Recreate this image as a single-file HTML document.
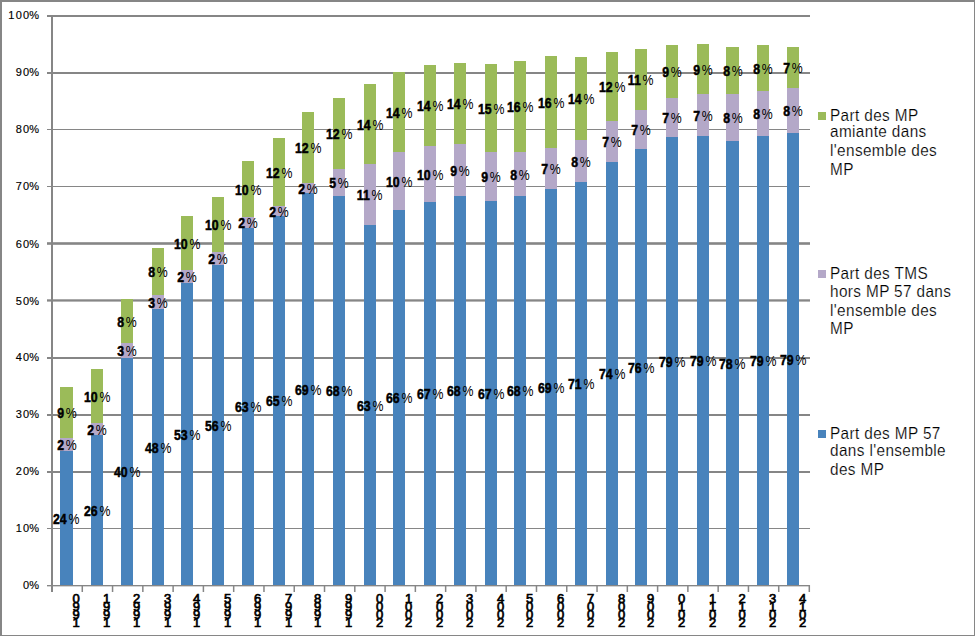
<!DOCTYPE html>
<html><head><meta charset="utf-8"><style>
html,body{margin:0;padding:0;background:#fff;}
body{width:975px;height:636px;position:relative;overflow:hidden;font-family:"Liberation Sans",sans-serif;}
svg{position:absolute;left:0;top:0;}
.yl{position:absolute;right:936px;font-size:11px;line-height:11px;color:#000;-webkit-text-stroke:0.15px #000;white-space:nowrap;text-align:right;}
.dl{position:absolute;width:60px;text-align:center;font-size:15px;line-height:15px;color:#000;white-space:nowrap;}
.dl span{display:inline-block;transform:scaleX(0.82);}
.dl b{font-weight:bold;-webkit-text-stroke:0.5px #000;}
.dl i{font-style:normal;margin-left:2.2px;}
.xl{position:absolute;width:20px;text-align:center;font-size:13px;line-height:8.03px;color:#000;-webkit-text-stroke:0.7px #000;}
.lg{position:absolute;left:830px;font-size:16.5px;line-height:16.5px;letter-spacing:0.4px;color:#000;white-space:nowrap;transform:scaleX(0.93);-webkit-text-stroke:0.2px #fff;transform-origin:0 0;}
</style></head><body>
<svg width="975" height="636" viewBox="0 0 975 636">
<rect x="0.00" y="0.00" width="975.00" height="2.00" fill="#868686"/>
<rect x="0.00" y="0.00" width="2.00" height="636.00" fill="#868686"/>
<rect x="974.00" y="0.00" width="1.00" height="636.00" fill="#868686"/>
<rect x="0.00" y="635.00" width="975.00" height="1.00" fill="#868686"/>
<rect x="47.00" y="15.00" width="763.00" height="2.00" fill="#868686"/>
<rect x="47.00" y="72.00" width="763.00" height="2.00" fill="#868686"/>
<rect x="47.00" y="129.00" width="763.00" height="1.00" fill="#868686"/>
<rect x="47.00" y="186.00" width="763.00" height="1.00" fill="#868686"/>
<rect x="47.00" y="242.20" width="763.00" height="2.60" fill="#868686"/>
<rect x="47.00" y="299.30" width="763.00" height="2.30" fill="#868686"/>
<rect x="47.00" y="357.00" width="763.00" height="2.00" fill="#868686"/>
<rect x="47.00" y="414.00" width="763.00" height="2.00" fill="#868686"/>
<rect x="47.00" y="471.00" width="763.00" height="2.00" fill="#868686"/>
<rect x="47.00" y="528.00" width="763.00" height="1.00" fill="#868686"/>
<rect x="47.00" y="585.00" width="763.00" height="1.20" fill="#868686"/>
<rect x="51.00" y="15.00" width="2.00" height="577.00" fill="#868686"/>
<rect x="51.25" y="585.00" width="1.50" height="7.00" fill="#868686"/>
<rect x="81.53" y="585.00" width="1.50" height="7.00" fill="#868686"/>
<rect x="111.81" y="585.00" width="1.50" height="7.00" fill="#868686"/>
<rect x="142.09" y="585.00" width="1.50" height="7.00" fill="#868686"/>
<rect x="172.37" y="585.00" width="1.50" height="7.00" fill="#868686"/>
<rect x="202.65" y="585.00" width="1.50" height="7.00" fill="#868686"/>
<rect x="232.93" y="585.00" width="1.50" height="7.00" fill="#868686"/>
<rect x="263.21" y="585.00" width="1.50" height="7.00" fill="#868686"/>
<rect x="293.49" y="585.00" width="1.50" height="7.00" fill="#868686"/>
<rect x="323.77" y="585.00" width="1.50" height="7.00" fill="#868686"/>
<rect x="354.05" y="585.00" width="1.50" height="7.00" fill="#868686"/>
<rect x="384.33" y="585.00" width="1.50" height="7.00" fill="#868686"/>
<rect x="414.61" y="585.00" width="1.50" height="7.00" fill="#868686"/>
<rect x="444.89" y="585.00" width="1.50" height="7.00" fill="#868686"/>
<rect x="475.17" y="585.00" width="1.50" height="7.00" fill="#868686"/>
<rect x="505.45" y="585.00" width="1.50" height="7.00" fill="#868686"/>
<rect x="535.73" y="585.00" width="1.50" height="7.00" fill="#868686"/>
<rect x="566.01" y="585.00" width="1.50" height="7.00" fill="#868686"/>
<rect x="596.29" y="585.00" width="1.50" height="7.00" fill="#868686"/>
<rect x="626.57" y="585.00" width="1.50" height="7.00" fill="#868686"/>
<rect x="656.85" y="585.00" width="1.50" height="7.00" fill="#868686"/>
<rect x="687.13" y="585.00" width="1.50" height="7.00" fill="#868686"/>
<rect x="717.41" y="585.00" width="1.50" height="7.00" fill="#868686"/>
<rect x="747.69" y="585.00" width="1.50" height="7.00" fill="#868686"/>
<rect x="777.97" y="585.00" width="1.50" height="7.00" fill="#868686"/>
<rect x="808.55" y="585.00" width="1.50" height="7.00" fill="#868686"/>
<rect x="60.00" y="451.00" width="13.00" height="134.00" fill="#4883bc"/>
<rect x="60.00" y="438.00" width="13.00" height="13.00" fill="#b4a8c8"/>
<rect x="60.00" y="387.00" width="13.00" height="51.00" fill="#9bbb59"/>
<rect x="91.00" y="435.00" width="12.00" height="150.00" fill="#4883bc"/>
<rect x="91.00" y="423.00" width="12.00" height="12.00" fill="#b4a8c8"/>
<rect x="91.00" y="369.00" width="12.00" height="54.00" fill="#9bbb59"/>
<rect x="121.00" y="358.00" width="12.00" height="227.00" fill="#4883bc"/>
<rect x="121.00" y="343.00" width="12.00" height="15.00" fill="#b4a8c8"/>
<rect x="121.00" y="299.00" width="12.00" height="44.00" fill="#9bbb59"/>
<rect x="152.00" y="309.00" width="12.00" height="276.00" fill="#4883bc"/>
<rect x="152.00" y="295.00" width="12.00" height="14.00" fill="#b4a8c8"/>
<rect x="152.00" y="248.00" width="12.00" height="47.00" fill="#9bbb59"/>
<rect x="181.00" y="283.00" width="12.00" height="302.00" fill="#4883bc"/>
<rect x="181.00" y="270.00" width="12.00" height="13.00" fill="#b4a8c8"/>
<rect x="181.00" y="216.00" width="12.00" height="54.00" fill="#9bbb59"/>
<rect x="212.00" y="265.00" width="12.00" height="320.00" fill="#4883bc"/>
<rect x="212.00" y="252.00" width="12.00" height="13.00" fill="#b4a8c8"/>
<rect x="212.00" y="197.00" width="12.00" height="55.00" fill="#9bbb59"/>
<rect x="242.00" y="228.00" width="12.00" height="357.00" fill="#4883bc"/>
<rect x="242.00" y="217.00" width="12.00" height="11.00" fill="#b4a8c8"/>
<rect x="242.00" y="161.00" width="12.00" height="56.00" fill="#9bbb59"/>
<rect x="273.00" y="216.00" width="12.00" height="369.00" fill="#4883bc"/>
<rect x="273.00" y="206.00" width="12.00" height="10.00" fill="#b4a8c8"/>
<rect x="273.00" y="138.00" width="12.00" height="68.00" fill="#9bbb59"/>
<rect x="302.00" y="193.00" width="12.00" height="392.00" fill="#4883bc"/>
<rect x="302.00" y="183.00" width="12.00" height="10.00" fill="#b4a8c8"/>
<rect x="302.00" y="112.00" width="12.00" height="71.00" fill="#9bbb59"/>
<rect x="333.00" y="196.00" width="12.00" height="389.00" fill="#4883bc"/>
<rect x="333.00" y="169.00" width="12.00" height="27.00" fill="#b4a8c8"/>
<rect x="333.00" y="98.00" width="12.00" height="71.00" fill="#9bbb59"/>
<rect x="364.00" y="225.00" width="12.00" height="360.00" fill="#4883bc"/>
<rect x="364.00" y="164.00" width="12.00" height="61.00" fill="#b4a8c8"/>
<rect x="364.00" y="84.00" width="12.00" height="80.00" fill="#9bbb59"/>
<rect x="393.00" y="210.00" width="12.00" height="375.00" fill="#4883bc"/>
<rect x="393.00" y="152.00" width="12.00" height="58.00" fill="#b4a8c8"/>
<rect x="393.00" y="72.00" width="12.00" height="80.00" fill="#9bbb59"/>
<rect x="424.00" y="202.00" width="12.00" height="383.00" fill="#4883bc"/>
<rect x="424.00" y="146.00" width="12.00" height="56.00" fill="#b4a8c8"/>
<rect x="424.00" y="65.00" width="12.00" height="81.00" fill="#9bbb59"/>
<rect x="454.00" y="196.00" width="12.00" height="389.00" fill="#4883bc"/>
<rect x="454.00" y="144.00" width="12.00" height="52.00" fill="#b4a8c8"/>
<rect x="454.00" y="63.00" width="12.00" height="81.00" fill="#9bbb59"/>
<rect x="485.00" y="201.00" width="12.00" height="384.00" fill="#4883bc"/>
<rect x="485.00" y="152.00" width="12.00" height="49.00" fill="#b4a8c8"/>
<rect x="485.00" y="64.00" width="12.00" height="88.00" fill="#9bbb59"/>
<rect x="514.00" y="196.00" width="12.00" height="389.00" fill="#4883bc"/>
<rect x="514.00" y="152.00" width="12.00" height="44.00" fill="#b4a8c8"/>
<rect x="514.00" y="61.00" width="12.00" height="91.00" fill="#9bbb59"/>
<rect x="545.00" y="189.00" width="12.00" height="396.00" fill="#4883bc"/>
<rect x="545.00" y="148.00" width="12.00" height="41.00" fill="#b4a8c8"/>
<rect x="545.00" y="56.00" width="12.00" height="92.00" fill="#9bbb59"/>
<rect x="575.00" y="182.00" width="12.00" height="403.00" fill="#4883bc"/>
<rect x="575.00" y="140.00" width="12.00" height="42.00" fill="#b4a8c8"/>
<rect x="575.00" y="57.00" width="12.00" height="83.00" fill="#9bbb59"/>
<rect x="606.00" y="162.00" width="12.00" height="423.00" fill="#4883bc"/>
<rect x="606.00" y="121.00" width="12.00" height="41.00" fill="#b4a8c8"/>
<rect x="606.00" y="52.00" width="12.00" height="69.00" fill="#9bbb59"/>
<rect x="635.00" y="149.00" width="12.00" height="436.00" fill="#4883bc"/>
<rect x="635.00" y="110.00" width="12.00" height="39.00" fill="#b4a8c8"/>
<rect x="635.00" y="49.00" width="12.00" height="61.00" fill="#9bbb59"/>
<rect x="666.00" y="137.00" width="12.00" height="448.00" fill="#4883bc"/>
<rect x="666.00" y="98.00" width="12.00" height="39.00" fill="#b4a8c8"/>
<rect x="666.00" y="45.00" width="12.00" height="53.00" fill="#9bbb59"/>
<rect x="697.00" y="136.00" width="12.00" height="449.00" fill="#4883bc"/>
<rect x="697.00" y="94.00" width="12.00" height="42.00" fill="#b4a8c8"/>
<rect x="697.00" y="44.00" width="12.00" height="50.00" fill="#9bbb59"/>
<rect x="726.00" y="141.00" width="13.00" height="444.00" fill="#4883bc"/>
<rect x="726.00" y="94.00" width="13.00" height="47.00" fill="#b4a8c8"/>
<rect x="726.00" y="47.00" width="13.00" height="47.00" fill="#9bbb59"/>
<rect x="757.00" y="136.00" width="12.00" height="449.00" fill="#4883bc"/>
<rect x="757.00" y="91.00" width="12.00" height="45.00" fill="#b4a8c8"/>
<rect x="757.00" y="45.00" width="12.00" height="46.00" fill="#9bbb59"/>
<rect x="787.00" y="133.00" width="12.00" height="452.00" fill="#4883bc"/>
<rect x="787.00" y="88.00" width="12.00" height="45.00" fill="#b4a8c8"/>
<rect x="787.00" y="47.00" width="12.00" height="41.00" fill="#9bbb59"/>
<rect x="47.00" y="585.00" width="763.00" height="1.20" fill="#868686"/>
</svg>
<div class="yl" style="top:10.0px"><span style="letter-spacing:1.3px">1</span><span style="letter-spacing:1.3px">0</span>0%</div>
<div class="yl" style="top:67.0px"><span style="letter-spacing:1.3px">9</span>0%</div>
<div class="yl" style="top:124.0px"><span style="letter-spacing:1.3px">8</span>0%</div>
<div class="yl" style="top:181.0px"><span style="letter-spacing:1.3px">7</span>0%</div>
<div class="yl" style="top:239.0px"><span style="letter-spacing:1.3px">6</span>0%</div>
<div class="yl" style="top:296.0px"><span style="letter-spacing:1.3px">5</span>0%</div>
<div class="yl" style="top:352.0px"><span style="letter-spacing:1.3px">4</span>0%</div>
<div class="yl" style="top:409.0px"><span style="letter-spacing:1.3px">3</span>0%</div>
<div class="yl" style="top:466.0px"><span style="letter-spacing:1.3px">2</span>0%</div>
<div class="yl" style="top:523.0px"><span style="letter-spacing:1.3px">1</span>0%</div>
<div class="yl" style="top:580.0px">0%</div>
<div class="dl" style="left:36.50px;top:510.7px"><span><b>24</b><i>%</i></span></div>
<div class="dl" style="left:36.50px;top:437.2px"><span><b>2</b><i>%</i></span></div>
<div class="dl" style="left:36.50px;top:405.2px"><span><b>9</b><i>%</i></span></div>
<div class="dl" style="left:67.00px;top:502.7px"><span><b>26</b><i>%</i></span></div>
<div class="dl" style="left:67.00px;top:421.7px"><span><b>2</b><i>%</i></span></div>
<div class="dl" style="left:67.00px;top:388.7px"><span><b>10</b><i>%</i></span></div>
<div class="dl" style="left:97.00px;top:464.2px"><span><b>40</b><i>%</i></span></div>
<div class="dl" style="left:97.00px;top:343.2px"><span><b>3</b><i>%</i></span></div>
<div class="dl" style="left:97.00px;top:313.7px"><span><b>8</b><i>%</i></span></div>
<div class="dl" style="left:128.00px;top:439.7px"><span><b>48</b><i>%</i></span></div>
<div class="dl" style="left:128.00px;top:294.7px"><span><b>3</b><i>%</i></span></div>
<div class="dl" style="left:128.00px;top:264.2px"><span><b>8</b><i>%</i></span></div>
<div class="dl" style="left:157.00px;top:426.7px"><span><b>53</b><i>%</i></span></div>
<div class="dl" style="left:157.00px;top:269.2px"><span><b>2</b><i>%</i></span></div>
<div class="dl" style="left:157.00px;top:235.7px"><span><b>10</b><i>%</i></span></div>
<div class="dl" style="left:188.00px;top:417.7px"><span><b>56</b><i>%</i></span></div>
<div class="dl" style="left:188.00px;top:251.2px"><span><b>2</b><i>%</i></span></div>
<div class="dl" style="left:188.00px;top:217.2px"><span><b>10</b><i>%</i></span></div>
<div class="dl" style="left:218.00px;top:399.2px"><span><b>63</b><i>%</i></span></div>
<div class="dl" style="left:218.00px;top:215.2px"><span><b>2</b><i>%</i></span></div>
<div class="dl" style="left:218.00px;top:181.7px"><span><b>10</b><i>%</i></span></div>
<div class="dl" style="left:249.00px;top:393.2px"><span><b>65</b><i>%</i></span></div>
<div class="dl" style="left:249.00px;top:203.7px"><span><b>2</b><i>%</i></span></div>
<div class="dl" style="left:249.00px;top:164.7px"><span><b>12</b><i>%</i></span></div>
<div class="dl" style="left:278.00px;top:381.7px"><span><b>69</b><i>%</i></span></div>
<div class="dl" style="left:278.00px;top:180.7px"><span><b>2</b><i>%</i></span></div>
<div class="dl" style="left:278.00px;top:140.2px"><span><b>12</b><i>%</i></span></div>
<div class="dl" style="left:309.00px;top:383.2px"><span><b>68</b><i>%</i></span></div>
<div class="dl" style="left:309.00px;top:175.2px"><span><b>5</b><i>%</i></span></div>
<div class="dl" style="left:309.00px;top:126.2px"><span><b>12</b><i>%</i></span></div>
<div class="dl" style="left:340.00px;top:397.7px"><span><b>63</b><i>%</i></span></div>
<div class="dl" style="left:340.00px;top:187.2px"><span><b>11</b><i>%</i></span></div>
<div class="dl" style="left:340.00px;top:116.7px"><span><b>14</b><i>%</i></span></div>
<div class="dl" style="left:369.00px;top:390.2px"><span><b>66</b><i>%</i></span></div>
<div class="dl" style="left:369.00px;top:173.7px"><span><b>10</b><i>%</i></span></div>
<div class="dl" style="left:369.00px;top:104.7px"><span><b>14</b><i>%</i></span></div>
<div class="dl" style="left:400.00px;top:386.2px"><span><b>67</b><i>%</i></span></div>
<div class="dl" style="left:400.00px;top:166.7px"><span><b>10</b><i>%</i></span></div>
<div class="dl" style="left:400.00px;top:98.2px"><span><b>14</b><i>%</i></span></div>
<div class="dl" style="left:430.00px;top:383.2px"><span><b>68</b><i>%</i></span></div>
<div class="dl" style="left:430.00px;top:162.7px"><span><b>9</b><i>%</i></span></div>
<div class="dl" style="left:430.00px;top:96.2px"><span><b>14</b><i>%</i></span></div>
<div class="dl" style="left:461.00px;top:385.7px"><span><b>67</b><i>%</i></span></div>
<div class="dl" style="left:461.00px;top:169.2px"><span><b>9</b><i>%</i></span></div>
<div class="dl" style="left:461.00px;top:100.7px"><span><b>15</b><i>%</i></span></div>
<div class="dl" style="left:490.00px;top:383.2px"><span><b>68</b><i>%</i></span></div>
<div class="dl" style="left:490.00px;top:166.7px"><span><b>8</b><i>%</i></span></div>
<div class="dl" style="left:490.00px;top:99.2px"><span><b>16</b><i>%</i></span></div>
<div class="dl" style="left:521.00px;top:379.7px"><span><b>69</b><i>%</i></span></div>
<div class="dl" style="left:521.00px;top:161.2px"><span><b>7</b><i>%</i></span></div>
<div class="dl" style="left:521.00px;top:94.7px"><span><b>16</b><i>%</i></span></div>
<div class="dl" style="left:551.00px;top:376.2px"><span><b>71</b><i>%</i></span></div>
<div class="dl" style="left:551.00px;top:153.7px"><span><b>8</b><i>%</i></span></div>
<div class="dl" style="left:551.00px;top:91.2px"><span><b>14</b><i>%</i></span></div>
<div class="dl" style="left:582.00px;top:366.2px"><span><b>74</b><i>%</i></span></div>
<div class="dl" style="left:582.00px;top:134.2px"><span><b>7</b><i>%</i></span></div>
<div class="dl" style="left:582.00px;top:79.2px"><span><b>12</b><i>%</i></span></div>
<div class="dl" style="left:611.00px;top:359.7px"><span><b>76</b><i>%</i></span></div>
<div class="dl" style="left:611.00px;top:122.2px"><span><b>7</b><i>%</i></span></div>
<div class="dl" style="left:611.00px;top:72.2px"><span><b>11</b><i>%</i></span></div>
<div class="dl" style="left:642.00px;top:353.7px"><span><b>79</b><i>%</i></span></div>
<div class="dl" style="left:642.00px;top:110.2px"><span><b>7</b><i>%</i></span></div>
<div class="dl" style="left:642.00px;top:64.2px"><span><b>9</b><i>%</i></span></div>
<div class="dl" style="left:673.00px;top:353.2px"><span><b>79</b><i>%</i></span></div>
<div class="dl" style="left:673.00px;top:107.7px"><span><b>7</b><i>%</i></span></div>
<div class="dl" style="left:673.00px;top:61.7px"><span><b>9</b><i>%</i></span></div>
<div class="dl" style="left:702.50px;top:355.7px"><span><b>78</b><i>%</i></span></div>
<div class="dl" style="left:702.50px;top:110.2px"><span><b>8</b><i>%</i></span></div>
<div class="dl" style="left:702.50px;top:63.2px"><span><b>8</b><i>%</i></span></div>
<div class="dl" style="left:733.00px;top:353.2px"><span><b>79</b><i>%</i></span></div>
<div class="dl" style="left:733.00px;top:106.2px"><span><b>8</b><i>%</i></span></div>
<div class="dl" style="left:733.00px;top:60.7px"><span><b>8</b><i>%</i></span></div>
<div class="dl" style="left:763.00px;top:351.7px"><span><b>79</b><i>%</i></span></div>
<div class="dl" style="left:763.00px;top:103.2px"><span><b>8</b><i>%</i></span></div>
<div class="dl" style="left:763.00px;top:60.2px"><span><b>7</b><i>%</i></span></div>
<div class="xl" style="left:66.10px;top:595.1px">0<br>9<br>9<br>1</div>
<div class="xl" style="left:96.60px;top:595.1px">1<br>9<br>9<br>1</div>
<div class="xl" style="left:126.60px;top:595.1px">2<br>9<br>9<br>1</div>
<div class="xl" style="left:157.60px;top:595.1px">3<br>9<br>9<br>1</div>
<div class="xl" style="left:186.60px;top:595.1px">4<br>9<br>9<br>1</div>
<div class="xl" style="left:217.60px;top:595.1px">5<br>9<br>9<br>1</div>
<div class="xl" style="left:247.60px;top:595.1px">6<br>9<br>9<br>1</div>
<div class="xl" style="left:278.60px;top:595.1px">7<br>9<br>9<br>1</div>
<div class="xl" style="left:307.60px;top:595.1px">8<br>9<br>9<br>1</div>
<div class="xl" style="left:338.60px;top:595.1px">9<br>9<br>9<br>1</div>
<div class="xl" style="left:369.60px;top:595.1px">0<br>0<br>0<br>2</div>
<div class="xl" style="left:398.60px;top:595.1px">1<br>0<br>0<br>2</div>
<div class="xl" style="left:429.60px;top:595.1px">2<br>0<br>0<br>2</div>
<div class="xl" style="left:459.60px;top:595.1px">3<br>0<br>0<br>2</div>
<div class="xl" style="left:490.60px;top:595.1px">4<br>0<br>0<br>2</div>
<div class="xl" style="left:519.60px;top:595.1px">5<br>0<br>0<br>2</div>
<div class="xl" style="left:550.60px;top:595.1px">6<br>0<br>0<br>2</div>
<div class="xl" style="left:580.60px;top:595.1px">7<br>0<br>0<br>2</div>
<div class="xl" style="left:611.60px;top:595.1px">8<br>0<br>0<br>2</div>
<div class="xl" style="left:640.60px;top:595.1px">9<br>0<br>0<br>2</div>
<div class="xl" style="left:671.60px;top:595.1px">0<br>1<br>0<br>2</div>
<div class="xl" style="left:702.60px;top:595.1px">1<br>1<br>0<br>2</div>
<div class="xl" style="left:732.10px;top:595.1px">2<br>1<br>0<br>2</div>
<div class="xl" style="left:762.60px;top:595.1px">3<br>1<br>0<br>2</div>
<div class="xl" style="left:792.60px;top:595.1px">4<br>1<br>0<br>2</div>
<div style="position:absolute;left:818px;top:112.2px;width:8px;height:8px;background:#9bbb59"></div>
<div class="lg" style="top:106.73px">Part des MP</div>
<div class="lg" style="top:123.43px">amiante dans</div>
<div class="lg" style="top:142.33px">l'ensemble des</div>
<div class="lg" style="top:161.23px">MP</div>
<div style="position:absolute;left:818px;top:270.2px;width:8px;height:8px;background:#b4a8c8"></div>
<div class="lg" style="top:264.73px">Part des TMS</div>
<div class="lg" style="top:283.33px">hors MP 57 dans</div>
<div class="lg" style="top:301.93px">l'ensemble des</div>
<div class="lg" style="top:319.73px">MP</div>
<div style="position:absolute;left:818px;top:430.2px;width:8px;height:8px;background:#4883bc"></div>
<div class="lg" style="top:424.73px">Part des MP 57</div>
<div class="lg" style="top:441.63px">dans l'ensemble</div>
<div class="lg" style="top:460.63px">des MP</div>
</body></html>
